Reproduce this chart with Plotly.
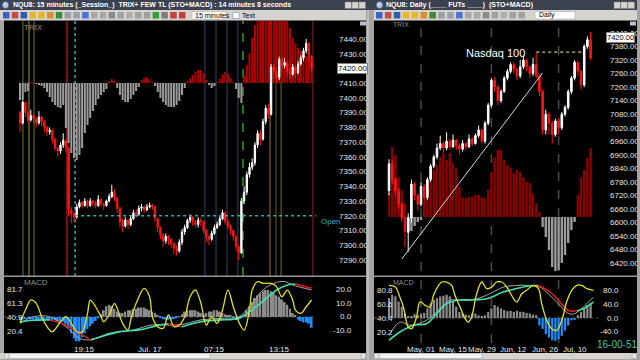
import plotly.graph_objects as go

W, H = 640, 360
def px(x): return x / W
def py(y): return 1 - y / H
FONT = "Liberation Sans, Arial, sans-serif"

# ---------------- Left window: NQU8 15 minutes ----------------
left_open0 = 7390
left_close = [7383, 7397, 7390, 7385, 7388, 7386, 7383, 7387, 7384, 7380, 7377, 7378, 7372, 7366, 7364, 7368, 7371, 7366, 7324, 7321, 7319,
              7326, 7329, 7327, 7330, 7327, 7330, 7329, 7327, 7331, 7328, 7327, 7330, 7333, 7336, 7332, 7325, 7316, 7313, 7317, 7314,
              7318, 7322, 7321, 7325, 7326, 7324, 7326, 7327, 7326, 7318, 7312, 7307, 7303, 7306, 7304, 7301, 7298, 7296, 7302, 7309,
              7312, 7317, 7319, 7316, 7314, 7317, 7316, 7310, 7306, 7304, 7308, 7312, 7314, 7318, 7322, 7316, 7313, 7310, 7306, 7299,
              7295, 7330, 7336, 7348, 7353, 7356, 7368, 7376, 7372, 7384, 7393, 7389, 7421, 7418, 7414, 7426, 7422, 7424, 7418, 7416,
              7421, 7417, 7423, 7427, 7432, 7437, 7428, 7420]
left_high = [7391, 7398, 7397, 7391, 7392, 7389, 7387, 7391, 7388, 7385, 7381, 7380, 7379, 7373, 7367, 7370, 7376, 7372, 7367, 7326, 7323,
             7328, 7331, 7330, 7332, 7331, 7332, 7331, 7330, 7334, 7332, 7329, 7331, 7335, 7341, 7338, 7333, 7326, 7318, 7319, 7318,
             7320, 7324, 7324, 7327, 7328, 7327, 7328, 7329, 7328, 7327, 7319, 7313, 7308, 7308, 7307, 7305, 7302, 7300, 7304, 7311,
             7314, 7318, 7321, 7320, 7317, 7319, 7319, 7317, 7311, 7307, 7310, 7314, 7316, 7320, 7324, 7323, 7318, 7314, 7311, 7307,
             7300, 7332, 7340, 7350, 7356, 7359, 7370, 7378, 7378, 7386, 7395, 7396, 7423, 7423, 7419, 7428, 7428, 7427, 7425, 7420,
             7423, 7422, 7425, 7429, 7434, 7440, 7438, 7429]
left_low = [7377, 7382, 7387, 7383, 7384, 7383, 7380, 7382, 7381, 7377, 7374, 7375, 7369, 7364, 7360, 7362, 7366, 7363, 7320, 7315, 7315,
            7318, 7325, 7325, 7326, 7325, 7326, 7326, 7325, 7326, 7326, 7324, 7326, 7329, 7332, 7330, 7322, 7312, 7309, 7312, 7311,
            7313, 7317, 7319, 7320, 7323, 7322, 7323, 7325, 7324, 7316, 7309, 7304, 7299, 7301, 7300, 7298, 7294, 7293, 7295, 7300,
            7307, 7311, 7315, 7313, 7312, 7312, 7313, 7308, 7302, 7300, 7303, 7307, 7311, 7313, 7317, 7314, 7311, 7307, 7303, 7296,
            7290, 7294, 7328, 7334, 7346, 7351, 7354, 7366, 7368, 7371, 7382, 7386, 7388, 7413, 7410, 7412, 7419, 7420, 7415, 7413,
            7415, 7414, 7416, 7422, 7425, 7430, 7425, 7418]
left_trix = [-17, -17, -9, -8, 1, 1, -1, -2, -3, -5, -9, -14, -19, -22, -24, -25, -22, -45, -60, -70, -75,
             -77, -72, -65, -50, -42, -35, -28, -22, -16, -12, -9, -6, 2, 4, 2, -5, -12, -17, -19, -19,
             -16, -12, -8, -4, 3, 5, 6, 4, 1, -3, -9, -15, -19, -22, -24, -24, -24, -22, -18, -12,
             -5, 2, 5, 8, 11, 13, 13, 10, 3, -2, -5, -3, 1, 4, 8, 11, 9, 5, 1, -6,
             -15, -20, 8, 18, 30, 45, 58, 65, 70, 75, 75, 75, 80, 80, 80, 75, 70, 65, 62, 55,
             45, 40, 35, 32, 30, 27, 25, 22]
left_macd_hist = [-2, -2, -1.5, -1.5, -2, -2, -2, -2, -2, -2, -2, -2.5, -2.5, -2.5, -3, -3, -3.5, -5, -8, -12, -16,
                  -18, -18, -15, -12, -9, -7, -5, -3, -1, 2, 5, 8, 9, 8, 6, 4, 3, 3, 4, 5,
                  5, 6, 6, 7, 7, 7, 6, 5, 4, 3, 1, -1, -1.5, -2, -2, -2, -1.5, -1, 0.5, 2,
                  4, 5, 5, 5, 5, 4, 3, 2, 3, 4, 4, 5, 5, 4, 3, 2, 1, 1, -1, -2,
                  -2, -1, 2, 5, 8, 11, 14, 16, 18, 19, 20, 20, 19, 18, 16, 15, 13, 11, 9, 6,
                  3, 1, -2, -3, -4, -4, -5, -8]
left_stoch_bars = [0, 2, 4, 6, 8, 10, 12, 15, 17, 19, 21, 23, 25, 26, 28, 30, 31, 33, 35, 36,
                   38, 40, 41, 43, 46, 48, 49, 51, 53, 55, 57, 59, 61, 63, 65, 67, 69, 71, 73, 75,
                   77, 79, 81, 83, 85, 86, 88, 90, 93, 95, 97, 99, 101, 102, 104, 106, 108]
left_stoch_vals = [31.5, 51.3, 66.2, 61.3, 41.4, 26.5, 19.0, 33.9, 41.4, 31.5, 19.0, 19.0, 46.4, 66.2, 56.2, 41.4, 33.9, 43.9, 61.3, 53.9,
                   31.5, 21.5, 36.4, 61.3, 83.6, 71.1, 41.4, 26.5, 24.0, 43.9, 26.5, 29.0, 41.4, 71.1, 81.1, 61.3, 29.0, 41.4, 31.5, 51.3,
                   81.1, 56.2, 33.9, 21.5, 51.3, 81.1, 93.5, 91.0, 91.0, 86.1, 71.1, 81.1, 66.2, 51.3, 46.4, 56.2, 66.2]
left_macd_bars = [0, 5, 11, 17, 22, 25, 28, 33, 42, 49, 59, 67, 74, 81, 85, 90, 94, 98, 101, 108]
left_macd_vals = [-4.7, 0.2, 0.2, -7.2, -15.8, -17, -15.8, -12.1, -9.6, -5.9, -5.9, -2.2, -1.0, 0.2, 7.6, 20, 25, 26.2, 23.7, 20]
left_signal_bars = [0, 5, 11, 17, 21, 26, 30, 37, 44, 52, 55, 60, 67, 74, 81, 89, 95, 99, 102, 108]
left_signal_vals = [-3.5, -2.4, -2.2, -5.9, -10.9, -17, -14.6, -10.9, -9.6, -5.9, -5.0, -7.2, -3.5, -2.2, -1.0, 10.1, 20, 23.7, 24.4, 21.2]
left_tick_bars = [24, 48, 72, 96]
left_tick_text = ["19:15", "Jul. 17", "07:15", "13:15"]
left_price_ticks = [7290, 7300, 7310, 7320, 7330, 7340, 7350, 7360, 7370, 7380, 7390, 7400, 7410, 7420, 7430, 7440]
left_macd_ticks = [20.0, 10.0, 0.0, -10.0]
left_stoch_ticks = [81.7, 61.3, 40.9, 20.4]
left_marker_bars = [1.1, 3.3, 5.2, 17.4, 20.4, 68.5, 72.6, 76.7, 80.7, 82.6, 92.6, 94.8, 96.7, 108.5]
left_open_level = 7320
left_open_start_bar = 20.4
last_price = 7420.00

# ---------------- Right window: NQU8 Daily ----------------
right_open0 = 6740
right_close = [6860, 6790, 6740, 6680, 6620, 6560, 6620, 6770, 6720, 6680, 6760, 6710, 6790, 6850, 6890, 6930,
               6950, 6930, 6960, 6935, 6965, 6940, 6925, 6950, 6935, 6970, 6950, 6985, 7010, 6960, 7040, 7120,
               7230, 7200, 7140, 7180, 7240, 7270, 7300, 7280, 7250, 7290, 7320, 7290, 7260, 7300, 7250, 7180,
               7010, 7080, 7040, 6990, 7050, 7020, 7080, 7110, 7180, 7240, 7310, 7270, 7210, 7380, 7410, 7330]
right_high = [6880, 6880, 6800, 6750, 6690, 6630, 6640, 6790, 6780, 6730, 6780, 6770, 6800, 6860, 6900, 6950,
              6985, 6960, 7000, 6970, 6990, 6970, 6950, 6965, 6955, 6990, 6980, 6995, 7030, 7015, 7050, 7130,
              7240, 7245, 7210, 7190, 7250, 7280, 7310, 7310, 7285, 7320, 7340, 7325, 7295, 7330, 7352, 7260,
              7190, 7100, 7090, 7050, 7060, 7060, 7090, 7120, 7190, 7250, 7320, 7315, 7275, 7390, 7425, 7445]
right_low = [6720, 6770, 6720, 6660, 6600, 6490, 6470, 6600, 6700, 6650, 6670, 6690, 6700, 6780, 6840, 6880,
             6920, 6910, 6920, 6920, 6930, 6920, 6900, 6915, 6920, 6930, 6940, 6945, 6975, 6950, 6950, 7030,
             7110, 7180, 7120, 7130, 7175, 7230, 7260, 7260, 7230, 7240, 7280, 7270, 7240, 7250, 7240, 7160,
             6990, 6990, 6990, 6950, 6980, 6990, 7010, 7070, 7100, 7170, 7230, 7250, 7190, 7200, 7370, 7320]
right_trix = [24, 70, 62, 40, 27, 14, -16, -14, -9, -5, -3, 15, 27, 37, 47, 52,
              60, 64, 57, 64, 54, 49, 30, 20, 19, 20, 20, 22, 22, 20, 19, 27,
              44, 60, 67, 67, 57, 52, 49, 44, 47, 45, 40, 35, 34, 24, 14, 5,
              -10, -20, -33, -50, -55, -53, -46, -38, -26, -13, -5, 22, 40, 47, 59, 69]
right_macd_hist = [58, 68, 63, 48, 33, 13, 5, 3, 11, 8, 13, 15, 28, 43, 53, 58,
                   63, 65, 68, 63, 48, 33, 18, 13, 10, 8, 13, 13, 8, 5, 8, 18,
                   28, 38, 33, 28, 23, 20, 21, 18, 21, 18, 18, 15, 13, 10, 8, -22,
                   -32, -47, -57, -65, -67, -62, -52, -37, -22, -7, -5, 8, 18, 28, 38, 43]
right_stoch_bars = [0, 2, 3, 4.5, 6, 7.1, 8.6, 9.7, 11.3, 12.8, 13.9, 15.5, 16.5, 18, 19.6, 20.6, 22.2, 23.8, 24.8, 25.8,
                    27.4, 29, 30.5, 32.1, 33.6, 35.2, 36.8, 38.3, 39.9, 41.5, 43, 45.1, 46.7, 47.7, 49.3, 50.8, 52.4, 54, 55.5, 57.1,
                    58.7, 60.2, 61.8, 63.9]
right_stoch_vals = [88.5, 86.1, 76.2, 56.6, 27.1, 24.7, 41.9, 64.0, 59.1, 56.6, 73.8, 88.5, 93.4, 93.4, 88.5, 73.8, 56.6, 39.4, 34.5, 41.9,
                    76.2, 93.4, 83.6, 86.1, 93.4, 93.4, 86.1, 73.8, 64.0, 76.2, 81.2, 88.5, 83.6, 61.5, 37.0, 24.7, 22.2, 37.0, 64.0, 81.2,
                    88.5, 88.5, 83.6, 81.2]
right_macd_bars = [0, 3.4, 6.5, 11.7, 15.9, 19, 22.2, 27.4, 32.6, 35.7, 39.9, 44, 47.2, 50.3, 53.4, 56, 58.1, 60.7, 63.9]
right_macd_vals = [-51, -12, -21, -7, 27, 52, 52, 56, 76, 90, 95, 95, 90, 66, 37, 13, 13, 32, 61]
right_signal_bars = [0, 3.4, 7.6, 11.7, 14.9, 18, 21.1, 25.3, 30.5, 35.7, 39.9, 44, 46.7, 50.3, 53.4, 56, 58.7, 60.7, 63.9]
right_signal_vals = [-65, -41, -21, -17, 13, 42, 52, 53, 56, 76, 86, 94, 95, 76, 47, 22, 21, 27, 47]
right_tick_bars = [10, 20, 29, 39, 49, 58, 68]
right_tick_text = ["May, 01", "May, 15", "May, 29", "Jun, 12", "Jun, 26", "Jul, 10", "Jul, 24"]
right_month_bars = [10, 32, 53]
right_price_ticks = [6420, 6480, 6540, 6600, 6660, 6720, 6780, 6840, 6900, 6960, 7020, 7080, 7140, 7200, 7260, 7320, 7380, 7440]
right_macd_ticks = [80.0, 40.0, 0.0, -40.0]
right_stoch_ticks = [80.8, 60.6, 40.4, 20.2]
trend_bars = [4, 48]
trend_vals = [6438, 7263]
level_bars = [46, 61]
level_val = 7355

# ---------------- styles ----------------
TXT = "#e6e6e6"
RED = "#ff1414"
TEAL = "#3ee0b0"
SIGRED = "#e01818"
YEL = "#e2e020"
GRAYLINE = "#a8a8a8"

fig = go.Figure()

def split_runs(xs, ys):
    runs = []
    for i in range(len(xs) - 1):
        up = ys[i + 1] >= ys[i]
        if runs and runs[-1][0] == up:
            runs[-1][1].append(xs[i + 1]); runs[-1][2].append(ys[i + 1])
        else:
            runs.append([up, [xs[i], xs[i + 1]], [ys[i], ys[i + 1]]])
    out = {True: ([], []), False: ([], [])}
    for up, rx, ry in runs:
        ox, oy = out[up]
        if ox:
            ox.append(None); oy.append(None)
        ox.extend(rx); oy.extend(ry)
    return out

def macd_panel(xa, ya, ya_st, hist, mb, mv, sb, sv, stb, stv):
    n = len(hist)
    fig.add_trace(go.Bar(x=list(range(n)), y=hist, xaxis=xa, yaxis=ya, width=0.7,
                         marker=dict(color=["#8c8c8c" if v >= 0 else "#1e8cff" for v in hist], line=dict(width=0))))
    fig.add_trace(go.Scatter(x=mb, y=mv, xaxis=xa, yaxis=ya, mode="lines",
                             line=dict(color=GRAYLINE, width=1, shape="spline")))
    runs = split_runs(sb, sv)
    for up, col in ((True, TEAL), (False, SIGRED)):
        fig.add_trace(go.Scatter(x=runs[up][0], y=runs[up][1], xaxis=xa, yaxis=ya, mode="lines",
                                 connectgaps=False, line=dict(color=col, width=1.6, shape="spline")))
    fig.add_trace(go.Scatter(x=stb, y=stv, xaxis=xa, yaxis=ya_st, mode="lines",
                             line=dict(color=YEL, width=1.3, shape="spline", smoothing=1.0)))

# ---- left main panel ----
nL = len(left_close)
left_open = [left_open0] + left_close[:-1]
fig.add_trace(go.Bar(x=list(range(nL)), y=left_trix, xaxis="x", yaxis="y", width=0.75,
                     marker=dict(color=["#b40000" if v > 0 else "#9c9c9c" for v in left_trix], line=dict(width=0))))
fig.add_trace(go.Candlestick(x=list(range(nL)), open=left_open, high=left_high, low=left_low, close=left_close,
                             xaxis="x", yaxis="y2", whiskerwidth=0,
                             increasing=dict(line=dict(color="#ffffff", width=1), fillcolor="#ffffff"),
                             decreasing=dict(line=dict(color=RED, width=1), fillcolor=RED)))
macd_panel("x2", "y3", "y4", left_macd_hist, left_macd_bars, left_macd_vals,
           left_signal_bars, left_signal_vals, left_stoch_bars, left_stoch_vals)

# ---- right main panel ----
nR = len(right_close)
right_open = [right_open0] + right_close[:-1]
fig.add_trace(go.Bar(x=list(range(nR)), y=right_trix, xaxis="x3", yaxis="y5", width=0.75,
                     marker=dict(color=["#8e0000" if v > 0 else "#9c9c9c" for v in right_trix], line=dict(width=0))))
fig.add_trace(go.Candlestick(x=list(range(nR)), open=right_open, high=right_high, low=right_low, close=right_close,
                             xaxis="x3", yaxis="y6", whiskerwidth=0,
                             increasing=dict(line=dict(color="#ffffff", width=1), fillcolor="#ffffff"),
                             decreasing=dict(line=dict(color=RED, width=1), fillcolor=RED)))
fig.add_trace(go.Scatter(x=trend_bars, y=trend_vals, xaxis="x3", yaxis="y6", mode="lines",
                         line=dict(color="#d8d8d8", width=1)))
fig.add_trace(go.Scatter(x=level_bars, y=[level_val] * len(level_bars), xaxis="x3", yaxis="y6", mode="lines",
                         line=dict(color="#cccc55", width=1.2, dash="dot")))
macd_panel("x4", "y7", "y8", right_macd_hist, right_macd_bars, right_macd_vals,
           right_signal_bars, right_signal_vals, right_stoch_bars, right_stoch_vals)

# ---------------- axes ----------------
def xax(dom, rng, anchor):
    return dict(domain=[px(dom[0]), px(dom[1])], range=rng, anchor=anchor, showgrid=False, zeroline=False,
                showline=False, ticks="", automargin=False, fixedrange=True, showticklabels=False,
                rangeslider=dict(visible=False))

def yax(dom, rng, anchor, **kw):
    d = dict(domain=[py(dom[1]), py(dom[0])], range=rng, anchor=anchor, showgrid=False, zeroline=False,
             showline=False, ticks="", automargin=False, fixedrange=True)
    d.update(kw)
    return d

LX = (4, 316)
RX = (374, 598)
MAIN = (21, 271)
MACD = (277, 343)
LXR = [-5.93, 109.63]
RXR = [-4.69, 65.31]

fig.update_layout(
    xaxis=xax(LX, LXR, "y"),
    xaxis2=xax(LX, LXR, "y3"),
    xaxis3=xax(RX, RXR, "y5"),
    xaxis4=xax(RX, RXR, "y7"),
    yaxis=yax(MAIN, [-188, 62], "x", visible=False),
    yaxis2=yax(MAIN, [7282.5, 7452.2], "x", overlaying="y", side="right", tickmode="array",
               tickvals=left_price_ticks, tickformat=".2f", ticklabelstandoff=22,
               tickfont=dict(family=FONT, size=8, color=TXT)),
    yaxis3=yax(MACD, [-19.3, 29.6], "x2", showticklabels=False),
    yaxis4=yax(MACD, [2.2, 100.5], "x2", overlaying="y3", side="left", tickmode="array",
               tickvals=left_stoch_ticks, ticktext=[f"{v:.1f}" for v in left_stoch_ticks],
               ticklabelposition="inside", tickfont=dict(family=FONT, size=8, color=TXT)),
    yaxis5=yax(MAIN, [-54, 196], "x3", visible=False),
    yaxis6=yax(MAIN, [6384.5, 7493.2], "x3", overlaying="y5", side="right", tickmode="array",
               tickvals=right_price_ticks, tickformat=".2f", ticklabelstandoff=11,
               tickfont=dict(family=FONT, size=8, color=TXT)),
    yaxis7=yax(MACD, [-73, 119.7], "x4", showticklabels=False),
    yaxis8=yax(MACD, [3.55, 100.8], "x4", overlaying="y7", side="left", tickmode="array",
               tickvals=right_stoch_ticks, ticktext=[f"{v:.1f}" for v in right_stoch_ticks],
               ticklabelposition="inside", tickfont=dict(family=FONT, size=8, color=TXT)),
)

# ---------------- shapes ----------------
shapes = []
def rect(x0, y0, x1, y1, fill, line=None, lw=0, layer="above"):
    shapes.append(dict(type="rect", xref="paper", yref="paper", x0=px(x0), x1=px(x1), y0=py(y1), y1=py(y0),
                       fillcolor=fill, line=dict(color=line or fill, width=lw), layer=layer))

marker_colors = ["#707032", "#4e4e22", "#707032", "#6a1414", "#22b4b4", "#34466a", "#34466a", "#34466a",
                 "#34466a", "#22a022", "#8a6414", "#5e5e24", "#707032", "#6a1414"]
marker_widths = [1, 2, 1, 2.5, 1.5, 1, 1, 1, 1, 1.5, 1.2, 1, 1, 1.5]
marker_dash = ["solid", "solid", "solid", "solid", "dot", "solid", "solid", "solid", "solid", "dash",
               "solid", "solid", "solid", "solid"]
for b, c, w, d in zip(left_marker_bars, marker_colors, marker_widths, marker_dash):
    shapes.append(dict(type="line", xref="x", yref="paper", x0=b, x1=b, y0=py(276), y1=py(21),
                       line=dict(color=c, width=w, dash=d), layer="below"))
shapes.append(dict(type="line", xref="x", yref="y2", x0=left_open_start_bar, x1=LXR[1],
                   y0=left_open_level, y1=left_open_level, line=dict(color="#22b4b4", width=1.3, dash="dot"),
                   layer="above"))
for b in right_month_bars:
    shapes.append(dict(type="line", xref="x3", yref="paper", x0=b, x1=b, y0=py(343), y1=py(21),
                       line=dict(color="#4a4a4a", width=1.5, dash="dash"), layer="below"))
for xa, ya in (("x2", "y3"), ("x4", "y7")):
    shapes.append(dict(type="line", xref=xa + " domain", yref=ya, x0=0, x1=1, y0=0, y1=0,
                       line=dict(color="#5a5a5a", width=1, dash="dot"), layer="below"))

# window chrome
FRAME = "#a4a4a4"
rect(0, 0, 4, 360, FRAME)
rect(366, 0, 374, 360, FRAME)
rect(637, 0, 640, 360, FRAME)
rect(0, 359, 640, 360, FRAME)
rect(367.5, 0, 368.5, 360, "#d8d8d8")
rect(0, 275.5, 366, 277, "#9a9a9a")
rect(374, 275.5, 637, 277, "#9a9a9a")
for x0, x1 in ((0, 366), (374, 637)):
    rect(x0, 0, x1, 10, "#3c4250")
    rect(x0, 10, x1, 20.5, "#d6d3ce")
    rect(x0, 353, x1, 359, "#d6d3ce")
rect(366, 0, 374, 10, "#3c4250")
rect(9, 353.5, 210, 358.5, "#f2f2f2", "#9a9a9a", 0.5)
rect(4.5, 353.5, 9, 358.5, "#e4e4e4", "#9a9a9a", 0.5)
rect(361, 353.5, 365.5, 358.5, "#e4e4e4", "#9a9a9a", 0.5)
rect(379, 353.5, 482, 358.5, "#f2f2f2", "#9a9a9a", 0.5)
rect(374.5, 353.5, 379, 358.5, "#e4e4e4", "#9a9a9a", 0.5)
rect(632, 353.5, 636.5, 358.5, "#e4e4e4", "#9a9a9a", 0.5)
for bx in (345, 352, 359, 614, 621, 628):
    rect(bx, 2, bx + 6.5, 8.5, "#d6d3ce", "#808080", 0.5)
for ix in (2, 376):
    shapes.append(dict(type="circle", xref="paper", yref="paper", x0=px(ix), x1=px(ix + 7), y0=py(8.5), y1=py(1.5),
                       fillcolor="#c8c8c8", line=dict(color="#3060a0", width=1)))
icon_cols = ["#3a62c8", "#c44a4a", "#2d5cb0", "#e6b828", "#e6b828", "#d8902c", "#3a8a3a", "#9aa0a8", "#9aa0a8",
             "#4a72d8", "#a8a8a8", "#a8a8a8", "#8a8a8a", "#a0a0a0", "#b0b0b0", "#a0a0a0", "#a0a0a0",
             "#30a030", "#808080", "#c84040", "#c84040"]
for k, c in enumerate(icon_cols):
    x0 = 3 + 8.8 * k
    rect(x0, 12, x0 + 6.5, 18.5, c)
for k, c in enumerate(icon_cols[:17]):
    x0 = 376 + 8.9 * k
    rect(x0, 12, x0 + 6.5, 18.5, c)
rect(192, 11.5, 226, 19, "#ffffff", "#9a9a9a", 0.5)
rect(535, 11.5, 575, 19, "#ffffff", "#9a9a9a", 0.5)
rect(233, 12.5, 239, 18.5, "#ffffff", "#6080b0", 0.5)
rect(360, 21.5, 366, 25.5, "#b8c0d0")
rect(630, 21.5, 636, 25.5, "#b8c0d0")

fig.update_layout(shapes=shapes)

# ---------------- annotations ----------------
ann = []
def text(x, y, s, size=8, color=TXT, xanchor="left", bold=False, **kw):
    d = dict(xref="paper", yref="paper", x=px(x), y=py(y), text=("<b>%s</b>" % s) if bold else s,
             showarrow=False, xanchor=xanchor, yanchor="middle",
             font=dict(family=FONT, size=size, color=color))
    d.update(kw)
    ann.append(d)

text(11, 5, "NQU8: 15 minutes (_Session_)  TRIX+ FEW TL (STO+MACD) : 14 minutes 8 seconds", 7, "#ffffff", bold=True)
text(384, 5, "NQU8: Daily (____ FUTs ____)  (STO+MACD)", 7, "#ffffff", bold=True)
text(193, 15.5, "15 minutes", 7, "#000000")
text(537, 15.5, "Daily", 7, "#000000")
text(240, 15.5, "Text", 7, "#000000")
text(22, 28, "TRIX", 8, "#8c8c8c")
text(391, 25, "TRIX", 7, "#8c8c8c")
text(22, 282, "MACD", 8, "#8c8c8c")
text(391, 282, "MACD", 7, "#8c8c8c")
text(319, 221, "Open", 8, "#22b4b4")
for v in left_macd_ticks:
    ann.append(dict(xref="paper", yref="y3", x=px(354), y=v, text=f"{v:.1f}", showarrow=False,
                    xanchor="right", yanchor="middle", font=dict(family=FONT, size=8, color=TXT)))
for v in right_macd_ticks:
    ann.append(dict(xref="paper", yref="y7", x=px(621), y=v, text=f"{v:.1f}", showarrow=False,
                    xanchor="right", yanchor="middle", font=dict(family=FONT, size=8, color=TXT)))
for b, t in zip(left_tick_bars, left_tick_text):
    ann.append(dict(xref="x2", yref="paper", x=b, y=py(349), text=t, showarrow=False,
                    xanchor="center", yanchor="middle", font=dict(family=FONT, size=8, color=TXT)))
for b, t in zip(right_tick_bars, right_tick_text):
    ann.append(dict(xref="x4", yref="paper", x=b, y=py(349), text=t, showarrow=False,
                    xanchor="center", yanchor="middle", font=dict(family=FONT, size=8, color=TXT)))
ann.append(dict(xref="paper", yref="y2", x=px(337), y=last_price, text=f"{last_price:.2f}", showarrow=False,
                xanchor="left", yanchor="middle", bgcolor="#ffffff", bordercolor="#808080", borderwidth=1, borderpad=0,
                font=dict(family=FONT, size=8, color="#000000")))
ann.append(dict(xref="paper", yref="y6", x=px(606), y=last_price, text=f"{last_price:.2f}", showarrow=False,
                xanchor="left", yanchor="middle", bgcolor="#ffffff", bordercolor="#808080", borderwidth=1, borderpad=0,
                font=dict(family=FONT, size=7.5, color="#000000")))
ann.append(dict(xref="x3", yref="y6", x=33.4, y=7351, text="Nasdaq 100", showarrow=False,
                xanchor="center", yanchor="middle", font=dict(family=FONT, size=11, color="#ffffff")))
text(617, 344, "16-00-51", 10, "#3cc8a0", xanchor="center")

fig.update_layout(
    annotations=ann,
    width=W, height=H, autosize=False,
    margin=dict(l=0, r=0, t=0, b=0, pad=0),
    paper_bgcolor="#000000", plot_bgcolor="#000000",
    showlegend=False, template="none", hovermode=False,
    boxgap=0.3,
    font=dict(family=FONT, size=8, color=TXT),
)

fig.write_html("out.html")
